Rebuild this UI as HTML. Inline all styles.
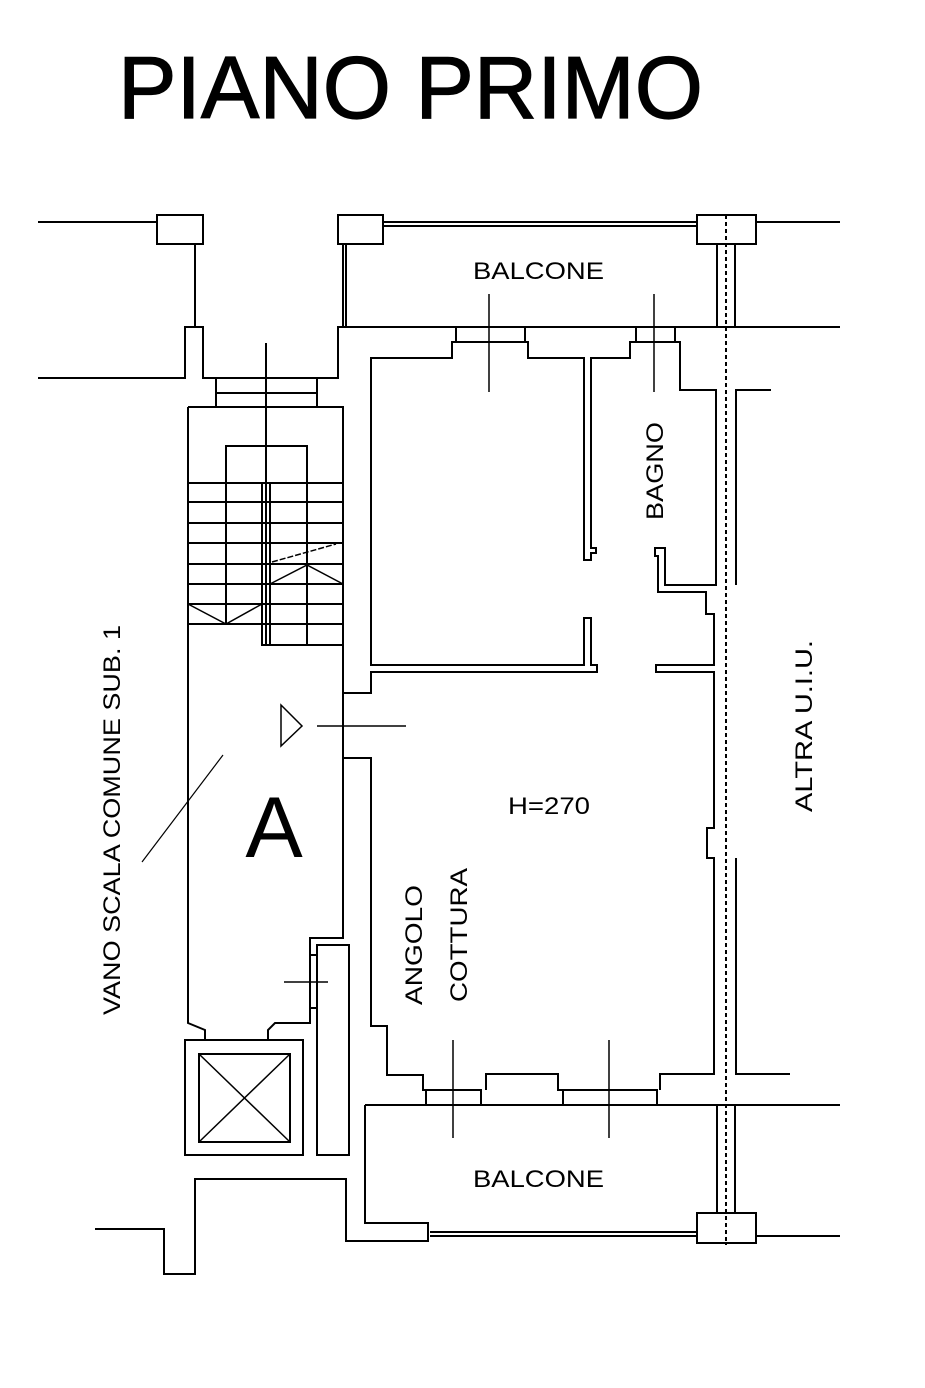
<!DOCTYPE html>
<html><head><meta charset="utf-8"><style>
html,body{margin:0;padding:0;background:#fff}
svg{display:block}
text{font-family:"Liberation Sans",sans-serif;fill:#000}
</style></head><body>
<svg width="925" height="1388" viewBox="0 0 925 1388" xmlns="http://www.w3.org/2000/svg">
<text x="118" y="118" font-size="88" textLength="585" lengthAdjust="spacingAndGlyphs" stroke="#000" stroke-width="1.2">PIANO PRIMO</text>
<g fill="none" stroke="#000" stroke-width="2">
<line x1="38" y1="222" x2="157" y2="222"/>
<rect x="157" y="215" width="46" height="29"/>
<line x1="195" y1="244" x2="195" y2="327"/>
<polyline points="38,378 185,378 185,327 203,327 203,378 338,378 338,327 840,327"/>
<rect x="216" y="378" width="101" height="29"/>
<line x1="216" y1="393" x2="317" y2="393"/>
<rect x="338" y="215" width="45" height="29"/>
<line x1="343" y1="244" x2="343" y2="327"/><line x1="346" y1="244" x2="346" y2="327"/>
<line x1="383" y1="222" x2="697" y2="222"/><line x1="383" y1="226" x2="697" y2="226"/>
<rect x="697" y="215" width="59" height="29"/>
<line x1="756" y1="222" x2="840" y2="222"/>
<line x1="717" y1="244" x2="717" y2="327"/><line x1="735" y1="244" x2="735" y2="327"/>
<rect x="697" y="1213" width="59" height="30"/>
<line x1="756" y1="1236" x2="840" y2="1236"/>
<line x1="717" y1="1105" x2="717" y2="1213"/><line x1="735" y1="1105" x2="735" y2="1213"/>
<line x1="430" y1="1232" x2="697" y2="1232"/><line x1="430" y1="1236" x2="697" y2="1236"/>
<line x1="726" y1="215" x2="726" y2="1245" stroke-dasharray="4,3"/>
<polyline points="188,407 343,407 343,938 310,938 310,1023 275,1023 268,1030 268,1040"/>
<polyline points="188,407 188,1023 205,1030 205,1040"/>
<rect x="226" y="446" width="81" height="37"/>
<line x1="266" y1="343" x2="266" y2="483"/>
<g>
<line x1="188" y1="483" x2="343" y2="483"/>
<line x1="188" y1="502" x2="343" y2="502"/>
<line x1="188" y1="523" x2="343" y2="523"/>
<line x1="188" y1="543" x2="343" y2="543"/>
<line x1="188" y1="564" x2="343" y2="564"/>
<line x1="188" y1="584" x2="343" y2="584"/>
<line x1="188" y1="604" x2="343" y2="604"/>
<line x1="188" y1="624" x2="343" y2="624"/>
<line x1="262" y1="645" x2="343" y2="645"/>
<line x1="226" y1="483" x2="226" y2="624"/>
<line x1="307" y1="483" x2="307" y2="645"/>
<rect x="262" y="483" width="8" height="162"/>
<line x1="266" y1="483" x2="266" y2="645"/>
</g>
<polyline points="188,604 226,624 262,604" stroke-width="1.5"/>
<polyline points="270,584 307,565 343,584" stroke-width="1.5"/>
<line x1="272" y1="562" x2="336" y2="544" stroke-width="1.5" stroke-dasharray="6,2"/>
<polygon points="281,705 302,726 281,746" stroke-width="1.5"/>
<line x1="317" y1="726" x2="406" y2="726" stroke-width="1.5"/>
<line x1="142" y1="862" x2="223" y2="755" stroke-width="1.2"/>
<rect x="185" y="1040" width="118" height="115"/>
<rect x="199" y="1054" width="91" height="88"/>
<line x1="199" y1="1054" x2="290" y2="1142" stroke-width="1.5"/>
<line x1="290" y1="1054" x2="199" y2="1142" stroke-width="1.5"/>
<rect x="317" y="945" width="32" height="210"/>
<line x1="310" y1="955" x2="317" y2="955"/>
<line x1="310" y1="1008" x2="317" y2="1008"/>
<line x1="284" y1="982" x2="328" y2="982" stroke-width="1.5"/>
<polyline points="343,693 371,693 371,672 597,672 597,665 591,665 591,618 584,618 584,665 371,665 371,358 452,358 452,342 456,342 456,327"/>
<rect x="456" y="327" width="69" height="15"/>
<polyline points="525,342 528,342 528,358 584,358 584,560 591,560 591,553 596,553 596,548 591,548 591,358 630,358 630,342 636,342"/>
<rect x="636" y="327" width="39" height="15"/>
<polyline points="675,342 680,342 680,390 716,390 716,585 665,585 665,548 655,548 655,556 658,556 658,592 706,592 706,614 714,614 714,665 656,665 656,672 714,672 714,828 707,828 707,858 714,858 714,1074 660,1074 660,1090"/>
<rect x="563" y="1090" width="94" height="15"/>
<polyline points="563,1090 558,1090 558,1074 486,1074 486,1090"/>
<rect x="426" y="1090" width="55" height="15"/>
<polyline points="426,1090 423,1090 423,1075 387,1075 387,1026 371,1026 371,758 343,758"/>
<polyline points="736,585 736,390 771,390"/>
<polyline points="736,858 736,1074 790,1074"/>
<line x1="365" y1="1105" x2="840" y2="1105"/>
<polyline points="365,1105 365,1223 428,1223 428,1241 346,1241 346,1179 195,1179 195,1274 164,1274 164,1229 95,1229"/>
<line x1="489" y1="294" x2="489" y2="392" stroke-width="1.5"/>
<line x1="654" y1="294" x2="654" y2="392" stroke-width="1.5"/>
<line x1="453" y1="1040" x2="453" y2="1138" stroke-width="1.5"/>
<line x1="609" y1="1040" x2="609" y2="1138" stroke-width="1.5"/>
</g>
<g font-size="24" lengthAdjust="spacingAndGlyphs">
<text x="473" y="279" textLength="131" lengthAdjust="spacingAndGlyphs">BALCONE</text>
<text x="473" y="1187" textLength="131" lengthAdjust="spacingAndGlyphs">BALCONE</text>
<text x="508" y="814" textLength="82" lengthAdjust="spacingAndGlyphs">H=270</text>
<text x="274" y="857" font-size="86" text-anchor="middle">A</text>
<text transform="translate(663,520) rotate(-90)" textLength="98" lengthAdjust="spacingAndGlyphs">BAGNO</text>
<text transform="translate(812,812) rotate(-90)" textLength="172" lengthAdjust="spacingAndGlyphs">ALTRA U.I.U.</text>
<text transform="translate(120,1015) rotate(-90)" textLength="390" lengthAdjust="spacingAndGlyphs">VANO SCALA COMUNE SUB. 1</text>
<text transform="translate(422,1005) rotate(-90)" textLength="120" lengthAdjust="spacingAndGlyphs">ANGOLO</text>
<text transform="translate(467,1002) rotate(-90)" textLength="134" lengthAdjust="spacingAndGlyphs">COTTURA</text>
</g>
</svg>
</body></html>
